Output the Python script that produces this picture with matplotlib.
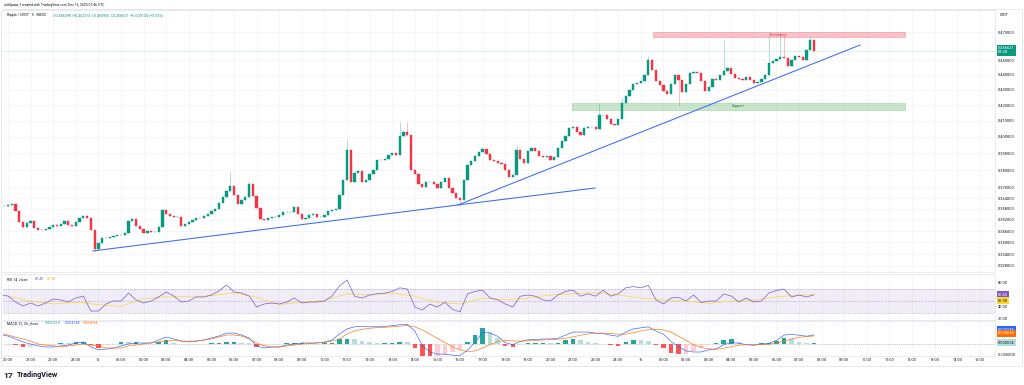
import matplotlib
matplotlib.use('Agg')
import matplotlib.pyplot as plt
from matplotlib.patches import Rectangle
import numpy as np

plt.rcParams['font.family'] = ['Roboto', 'DejaVu Sans']

UP = '#089981'
DOWN = '#F23645'
GRID = '#f0f3fa'
TXT = '#131722'

# XRP/USDT, read at 10 minute steps from 19:40 (Dec 14) to 07:40 (Dec 16)
first_open = 0.3590
closes = [
    0.3597, 0.3597, 0.3602, 0.3608, 0.3569, 0.3509, 0.3482, 0.3504, 0.3515, 0.3477,
    0.3466, 0.3466, 0.3472, 0.3482, 0.3493, 0.3488, 0.3498, 0.3515, 0.3493, 0.3488,
    0.3509, 0.3531, 0.3542, 0.3531, 0.3466, 0.3367, 0.3398, 0.3424, 0.3424, 0.3429,
    0.3434, 0.3440, 0.3440, 0.3450, 0.3515, 0.3525, 0.3488, 0.3472, 0.3450, 0.3461,
    0.3456, 0.3456, 0.3482, 0.3574, 0.3553, 0.3542, 0.3536, 0.3536, 0.3488, 0.3498,
    0.3509, 0.3520, 0.3531, 0.3531, 0.3542, 0.3553, 0.3569, 0.3580, 0.3613, 0.3647,
    0.3680, 0.3709, 0.3658, 0.3608, 0.3630, 0.3647, 0.3720, 0.3652, 0.3585, 0.3525,
    0.3520, 0.3531, 0.3536, 0.3536, 0.3547, 0.3564, 0.3564, 0.3564, 0.3591, 0.3553,
    0.3525, 0.3531, 0.3547, 0.3553, 0.3536, 0.3536, 0.3547, 0.3569, 0.3574, 0.3580,
    0.3658, 0.3743, 0.3920, 0.3732, 0.3784, 0.3795, 0.3732, 0.3743, 0.3778, 0.3801,
    0.3860, 0.3860, 0.3866, 0.3890, 0.3902, 0.3890, 0.4005, 0.4030, 0.4011, 0.3801,
    0.3778, 0.3720, 0.3703, 0.3732, 0.3732, 0.3720, 0.3697, 0.3732, 0.3755, 0.3697,
    0.3669, 0.3641, 0.3630, 0.3743, 0.3830, 0.3854, 0.3884, 0.3908, 0.3926, 0.3896,
    0.3860, 0.3854, 0.3842, 0.3836, 0.3801, 0.3760, 0.3772, 0.3920, 0.3866, 0.3842,
    0.3914, 0.3932, 0.3914, 0.3884, 0.3878, 0.3884, 0.3860, 0.3878, 0.3932, 0.3974,
    0.4005, 0.4055, 0.4061, 0.4030, 0.4011, 0.4055, 0.4061, 0.4061, 0.4048, 0.4137,
    0.4137, 0.4111, 0.4080, 0.4073, 0.4111, 0.4214, 0.4259, 0.4299, 0.4339, 0.4345,
    0.4359, 0.4399, 0.4502, 0.4433, 0.4359, 0.4332, 0.4292, 0.4272, 0.4339, 0.4399,
    0.4366, 0.4286, 0.4339, 0.4413, 0.4420, 0.4413, 0.4359, 0.4292, 0.4319, 0.4372,
    0.4366, 0.4399, 0.4426, 0.4447, 0.4406, 0.4379, 0.4372, 0.4366, 0.4386, 0.4366,
    0.4345, 0.4352, 0.4372, 0.4399, 0.4481, 0.4495, 0.4509, 0.4523, 0.4516, 0.4461,
    0.4502, 0.4530, 0.4523, 0.4502, 0.4572, 0.4643, 0.4566,
]
# long wicks that stick out of the bodies (candle index -> price)
wick_highs = {61: 0.3789, 66: 0.3732, 92: 0.3981, 106: 0.4092, 108: 0.4092,
              137: 0.3950, 159: 0.4214, 165: 0.4253, 172: 0.4530, 192: 0.4643,
              204: 0.4693, 207: 0.4693, 208: 0.4678, 215: 0.4671}
wick_lows = {25: 0.3356, 122: 0.3602, 180: 0.4194}

# indicators, read every 20 minutes from 19:40
rsi = [
    60, 58.3, 48.3, 41.7, 46.7, 41.7, 46.7, 53.3, 51.7, 48.3,
    55, 58.3, 33.3, 33.3, 45, 50, 50, 63.3, 51.7, 46.7,
    50, 56.7, 65, 58.3, 48.3, 50, 56.7, 56.7, 60, 66.7,
    76.7, 65, 63.3, 58.3, 40, 45, 46.7, 45, 48.3, 55,
    46.7, 48.3, 48.3, 50, 58.3, 75, 85, 58, 55, 60,
    62, 63, 66, 72, 70, 40, 35, 45, 40, 48,
    36, 32, 62, 66, 68, 55, 52, 45, 40, 58,
    60, 58, 52, 50, 60, 66, 68, 58, 62, 58,
    68, 58, 62, 72, 74, 72, 76, 52, 45, 55,
    56, 50, 60, 47.5, 50, 50, 61.7, 58.3, 48.3, 55,
    48.3, 50, 63.3, 67.5, 70, 56.7, 60, 56.7, 60.45,
]
# RSI moving average, hourly from 20:00, last point 07:40
rsi_ma_hours = list(range(36)) + [35 + 40 / 60]
rsi_ma = [
    58, 50, 45, 48, 44, 41, 54, 57, 57, 59,
    64, 56, 44, 48, 51, 62, 60, 63, 58, 48,
    45, 55, 52, 55, 60, 62, 64, 60, 55, 52,
    50, 46, 50, 51, 57, 60, 60.28,
]
macd = [
    0.0041, 0.0036, 0.0022, 0.0008, -0.0002, -0.0011, -0.0016, -0.0016, -0.0011, -0.0007,
    0.0003, 0.0008, -0.0016, -0.0030, -0.0026, -0.0021, -0.0011, -0.0002, 0.0003, 0.0003,
    0.0003, 0.0017, 0.0031, 0.0022, 0.0012, 0.0008, 0.0012, 0.0017, 0.0027, 0.0036,
    0.0050, 0.0050, 0.0041, 0.0027, -0.0011, -0.0021, -0.0016, -0.0016, -0.0007, -0.0002,
    0.0003, 0.0003, 0.0003, 0.0008, 0.0017, 0.0046, 0.0070, 0.0080, 0.0082, 0.0080,
    0.0080, 0.0082, 0.0085, 0.0090, 0.0092, 0.0060, -0.0010, -0.0040, -0.0050, -0.0050,
    -0.0055, -0.0057, -0.0030, 0.0005, 0.0055, 0.0050, 0.0035, 0.0005, -0.0005, 0.0010,
    0.0018, 0.0020, 0.0022, 0.0022, 0.0025, 0.0040, 0.0055, 0.0055, 0.0055, 0.0050,
    0.0048, 0.0040, 0.0035, 0.0055, 0.0070, 0.0075, 0.0080, 0.0060, 0.0045, 0.0010,
    -0.0015, -0.0035, -0.0040, -0.0040, -0.0030, -0.0025, -0.0005, 0.0005, 0.0002, -0.0005,
    -0.0008, -0.0003, 0.0001, 0.0015, 0.0040, 0.0045, 0.0040, 0.0035, 0.004148,
]
signal = [
    0.0050, 0.0041, 0.0031, 0.0022, 0.0012, -0.0002, -0.0007, -0.0011, -0.0016, -0.0011,
    -0.0007, -0.0002, -0.0007, -0.0011, -0.0021, -0.0021, -0.0021, -0.0011, -0.0007, -0.0002,
    0.0003, 0.0008, 0.0012, 0.0017, 0.0012, 0.0012, 0.0012, 0.0017, 0.0022, 0.0031,
    0.0041, 0.0041, 0.0036, 0.0022, 0.0003, -0.0011, -0.0016, -0.0016, -0.0011, -0.0007,
    -0.0002, 0.0000, 0.0003, 0.0005, 0.0012, 0.0022, 0.0046, 0.0060, 0.0068, 0.0073,
    0.0076, 0.0078, 0.0080, 0.0083, 0.0086, 0.0080, 0.0065, 0.0045, 0.0025, 0.0005,
    -0.0015, -0.0030, -0.0038, -0.0035, -0.0020, -0.0005, 0.0010, 0.0015, 0.0013, 0.0012,
    0.0013, 0.0015, 0.0017, 0.0019, 0.0021, 0.0025, 0.0032, 0.0040, 0.0046, 0.0049,
    0.0050, 0.0048, 0.0045, 0.0045, 0.0052, 0.0060, 0.0067, 0.0068, 0.0065, 0.0055,
    0.0035, 0.0015, -0.0005, -0.0018, -0.0025, -0.0027, -0.0022, -0.0015, -0.0008, -0.0005,
    -0.0005, -0.0005, -0.0003, 0.0002, 0.0012, 0.0022, 0.0030, 0.0034, 0.003634,
]

time_labels = ['20:00', '21:00', '22:00', '23:00', '15', '01:00', '02:00', '03:00',
               '04:00', '05:00', '06:00', '07:00', '08:00', '09:00', '10:00', '11:00',
               '12:00', '13:00', '14:00', '15:00', '16:00', '17:00', '18:00', '19:00',
               '20:00', '21:00', '22:00', '23:00', '16', '01:00', '02:00', '03:00',
               '04:00', '05:00', '06:00', '07:00', '08:00', '09:00', '10:00', '11:00',
               '12:00', '13:00', '14:00', '15:00']
price_ticks = [0.47, 0.45, 0.44, 0.43, 0.42, 0.41, 0.40, 0.39, 0.38, 0.37,
               0.364, 0.358, 0.352, 0.346, 0.34, 0.334, 0.328]
last_price = 0.456621

# drawings (hours after 20:00 Dec 14, price)
trend_low = [(3.76, 0.3356), (19.91, 0.3602)]
trend_ray = [(19.91, 0.3602), (25.97, 0.3697)]
trend_up = [(19.91, 0.3602), (37.70, 0.4607)]
resistance = (28.54, 39.69, 0.4662, 0.4702)
support = (24.96, 39.69, 0.4169, 0.4214)

W, H = 1024, 385


def box(x0, y0, x1, y1):
    return [x0 / W, 1 - y1 / H, (x1 - x0) / W, (y1 - y0) / H]


fig = plt.figure(figsize=(W / 100, H / 100), dpi=100)
ax = fig.add_axes(box(3, 10, 995, 272))
ax_rsi = fig.add_axes(box(3, 274, 995, 320), sharex=ax)
ax_macd = fig.add_axes(box(3, 321, 995, 356), sharex=ax)

hours = np.arange(len(time_labels))
for a in (ax, ax_rsi, ax_macd):
    for s in a.spines.values():
        s.set_color('#e0e3eb')
        s.set_linewidth(0.5)
    a.spines['left'].set_visible(False)
    for h in hours:
        a.axvline(h, color=GRID, lw=0.5, zorder=0)
    a.yaxis.tick_right()
    a.tick_params(axis='both', length=0, labelsize=2.9, colors=TXT, pad=2)

# price pane
ax.set_yscale('log')
ax.set_ylim(0.3249, 0.4862)
ax.set_xlim(-0.221, 43.67)
ax.set_yticks(price_ticks)
ax.set_yticklabels([f'{v:.6f}' for v in price_ticks])
ax.minorticks_off()
for v in price_ticks:
    ax.axhline(v, color=GRID, lw=0.5, zorder=0)
plt.setp(ax.get_xticklabels(), visible=False)

t_c = (np.arange(len(closes)) - 2) / 6.0
opens = [first_open] + closes[:-1]
for i, (o, c) in enumerate(zip(opens, closes)):
    col = UP if c >= o else DOWN
    hi = max(o, c, wick_highs.get(i, 0))
    lo = min(o, c, wick_lows.get(i, 1))
    ax.vlines(t_c[i], lo, hi, color=col, lw=0.4, alpha=0.55, zorder=2)
    ax.bar(t_c[i], abs(c - o), bottom=min(o, c), width=0.1, color=col,
           edgecolor=col, linewidth=0.3, zorder=3)

for ln in (trend_low, trend_ray, trend_up):
    xs, ys = zip(*ln)
    ax.plot(xs, ys, color='#3d6af5', lw=0.75, zorder=4)

x0, x1, y0, y1 = resistance
ax.add_patch(Rectangle((x0, y0), x1 - x0, y1 - y0, fc='#F23645', alpha=0.3,
                       ec='#F23645', lw=0.6, zorder=1))
ax.text((x0 + x1) / 2, (y0 * y1) ** 0.5, 'Resistance', color='#F23645',
        fontsize=2.6, ha='center', va='center', zorder=5)
x0, x1, y0, y1 = support
ax.add_patch(Rectangle((x0, y0), x1 - x0, y1 - y0, fc='#4CAF50', alpha=0.3,
                       ec='#4CAF50', lw=0.6, zorder=1))
ax.text((x0 + x1) / 2, (y0 * y1) ** 0.5, 'Support', color='#2E7D32',
        fontsize=2.6, ha='center', va='center', zorder=5)

ax.axhline(last_price, color=UP, lw=0.4, ls=(0, (1, 1.5)), alpha=0.6, zorder=1)


def tag(a, y, txt, fc, tc='white', dy=0):
    a.annotate(txt, xy=(1.0, y), xycoords=('axes fraction', 'data'),
               xytext=(2.2, dy), textcoords='offset points', fontsize=2.9,
               color=tc, va='center', ha='left', linespacing=1.1,
               bbox=dict(boxstyle='square,pad=0.35', fc=fc, ec='none'),
               annotation_clip=False, zorder=10)


tag(ax, last_price, '0.456621\n03:28', UP, dy=0.5)

# RSI pane
t_i = (np.arange(len(rsi)) - 1) / 3.0
ax_rsi.set_ylim(18.33, 95)
ax_rsi.axhspan(30, 70, color='#7E57C2', alpha=0.1, lw=0, zorder=0)
for lvl in (70, 50, 30):
    ax_rsi.axhline(lvl, color='#9598a1', lw=0.4, ls=(0, (2, 2)), zorder=1)
ax_rsi.plot(t_i, rsi, color='#7E57C2', lw=0.5, zorder=3)
ax_rsi.plot(rsi_ma_hours, rsi_ma, color='#FDD835', lw=0.5, zorder=2)
ax_rsi.set_yticks([80, 40, 20])
ax_rsi.set_yticklabels(['80.00', '40.00', '20.00'])
plt.setp(ax_rsi.get_xticklabels(), visible=False)
tag(ax_rsi, rsi[-1], '60.45', '#7E57C2', dy=0)
tag(ax_rsi, rsi_ma[-1], '60.28', '#FDD835', tc=TXT, dy=-4.2)

# MACD pane
hist = np.array(macd) - np.array(signal)
ax_macd.set_ylim(-0.0059, 0.01076)
ax_macd.axhline(0, color='#9598a1', lw=0.4, ls=(0, (2, 2)), zorder=1)
hcols = []
for i, v in enumerate(hist):
    prev = hist[i - 1] if i else v
    if v >= 0:
        hcols.append('#26A69A' if v >= prev else '#B2DFDB')
    else:
        hcols.append('#FF5252' if v < prev else '#FFCDD2')
ax_macd.bar(t_i, hist, width=0.2, color=hcols, zorder=2)
ax_macd.plot(t_i, macd, color='#2962FF', lw=0.45, zorder=3)
ax_macd.plot(t_i, signal, color='#FF6D00', lw=0.45, zorder=3)
ax_macd.set_yticks([-0.005])
ax_macd.set_yticklabels(['-0.005000'])
ax_macd.set_xticks(hours)
ax_macd.set_xticklabels(time_labels)
ax_macd.tick_params(axis='x', pad=1.5)
tag(ax_macd, macd[-1], '0.004148', '#2962FF', dy=3.6)
tag(ax_macd, signal[-1], '0.003634', '#FF6D00', dy=1.8)
tag(ax_macd, hist[-1], '0.000514', '#B2DFDB', tc=TXT, dy=0)


def ftext(x, y, s, **kw):
    kw.setdefault('fontsize', 2.6)
    kw.setdefault('color', TXT)
    fig.text(x / W, 1 - y / H, s, va='center', ha='left', **kw)


ftext(4, 5, 'albillyaaw_f created with TradingView.com, Dec 16, 2025 07:46 UTC', fontsize=2.4)
ftext(7, 14.7, 'Ripple / USDT · 5 · MEXC')
ftext(53, 14.7, 'O0.456098  H0.462213  L0.455955  C0.456621  +0.000134 (+0.03%)', color=UP)
ftext(1000, 15, 'USDT', fontsize=2.6)
ftext(7, 279.3, 'RSI 14, close')
ftext(35, 279.3, '60.45', color='#7E57C2')
ftext(47, 279.3, '60.28', color='#E0B800')
ftext(7, 323.3, 'MACD 12, 26, close')
ftext(45, 323.3, '0.000514', color='#26A69A')
ftext(65, 323.3, '0.004148', color='#2962FF')
ftext(83, 323.3, '0.003634', color='#FF6D00')
ftext(3, 375, '17', fontsize=6, fontweight='bold')
ftext(17, 375, 'TradingView', fontsize=5.2, fontweight='bold')

fig.add_artist(Rectangle((1 / W, 1 - 366 / H), 1021 / W, 357 / H,
                         transform=fig.transFigure, fill=False, ec='#e0e3eb', lw=0.6))

fig.savefig('out.png', dpi=100, facecolor='white')
